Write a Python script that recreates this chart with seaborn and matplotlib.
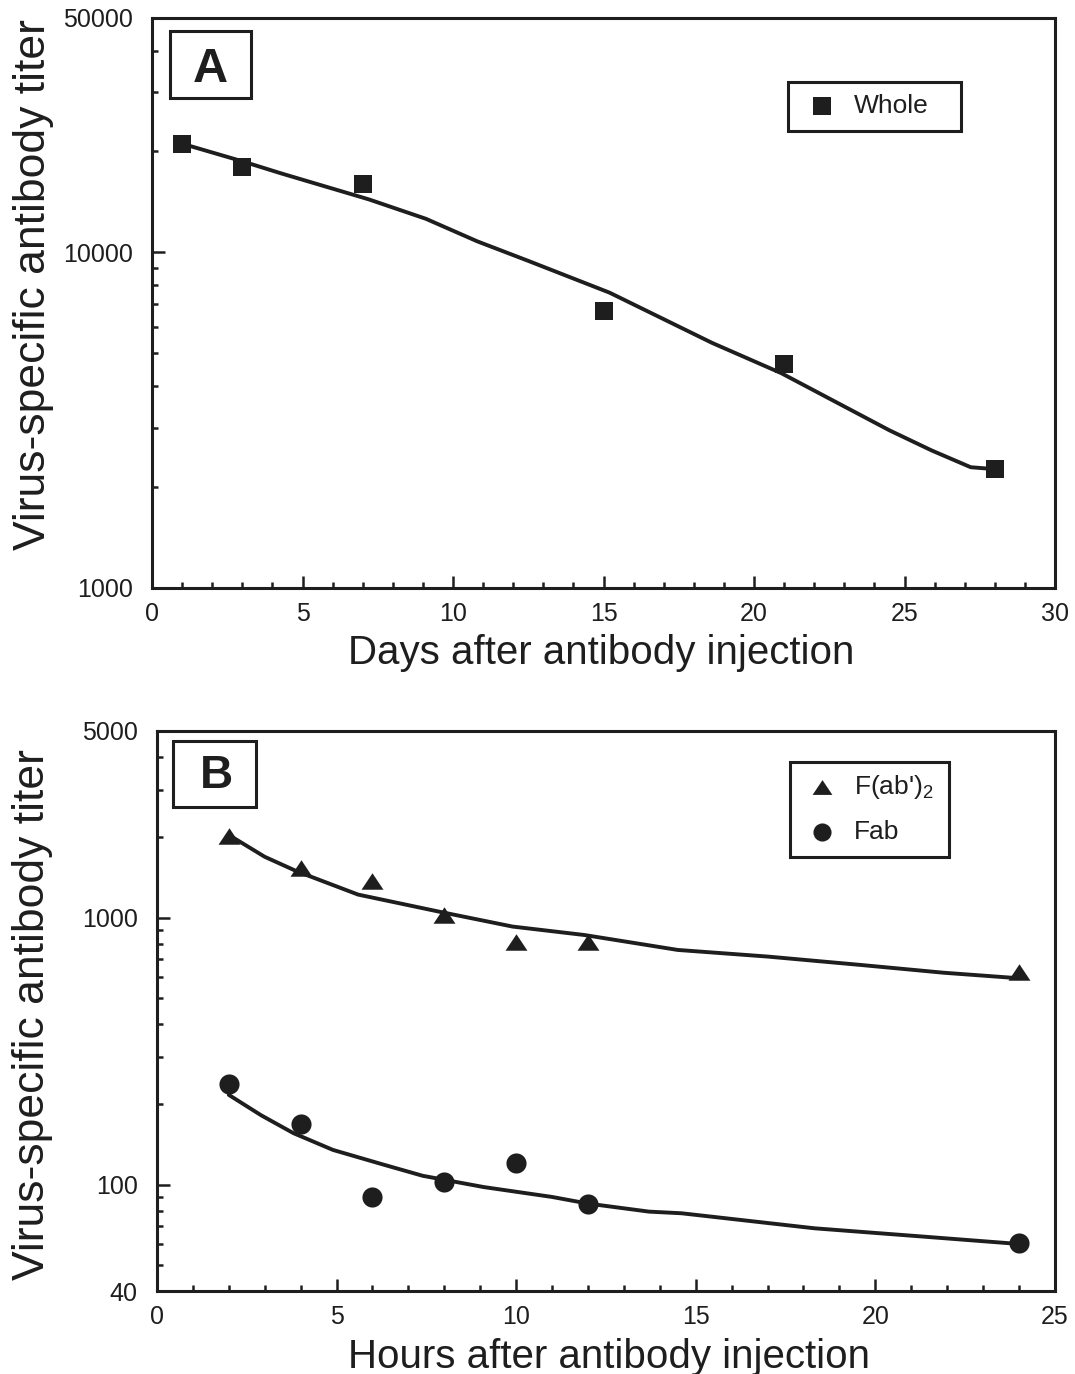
import matplotlib
matplotlib.use("Agg")
import matplotlib.pyplot as plt
import seaborn as sns
import pandas as pd
from matplotlib.ticker import FixedLocator, FixedFormatter, LogLocator, NullFormatter, MultipleLocator
from matplotlib.patches import Rectangle

# ---- Panel A: whole antibody, titer vs days ----
days_whole = [1, 3, 7, 15, 21, 28]
titer_whole = [21000, 18000, 16000, 6700, 4660, 2260]
fit_days = [1, 3, 4.3, 7.2, 9.1, 10.8, 12.5, 15.2, 18.6, 20.9, 24.5, 25.9, 27.2, 28]
fit_whole = [21100, 18700, 17200, 14400, 12600, 10800, 9440, 7590, 5380, 4370, 2950, 2570, 2290, 2260]

# ---- Panel B: fragments, titer vs hours ----
hours = [2, 4, 6, 8, 10, 12, 24]
titer_fab2 = [2020, 1540, 1370, 1020, 810, 810, 626]
titer_fab = [238, 169, 90, 102, 121, 85, 60.5]
fit_hours_fab2 = [2, 3, 3.9, 5.6, 7.9, 9.9, 11.9, 14.5, 17, 19.6, 21.9, 24]
fit_fab2 = [2040, 1690, 1490, 1220, 1050, 926, 861, 757, 715, 665, 622, 593]
fit_hours_fab = [2, 2.9, 3.8, 4.9, 6.3, 7.4, 9.1, 11, 12, 13.7, 14.6, 18.3, 21.1, 24]
fit_fab = [217, 182, 156, 135, 119, 108, 98, 90, 85, 79.3, 78.2, 68.7, 64.3, 60]

y_ticks_a = [1000, 10000, 50000]
y_ticks_b = [40, 100, 1000, 5000]
y_label = "Virus-specific antibody titer"
x_label_a = "Days after antibody injection"
x_label_b = "Hours after antibody injection"

INK = "#1e1e1e"

sns.set_theme(style="ticks")
plt.rcParams["font.family"] = ["Liberation Sans", "DejaVu Sans"]
plt.rcParams["mathtext.fontset"] = "custom"
plt.rcParams["mathtext.rm"] = "Liberation Sans"
plt.rcParams["mathtext.it"] = "Liberation Sans"
plt.rcParams["text.color"] = INK
plt.rcParams["axes.labelcolor"] = INK

fig = plt.figure(figsize=(10.75, 13.74), dpi=100)
fig.patch.set_facecolor("white")
ax_a = fig.add_axes([0.1414, 0.5721, 0.8400, 0.4148])
ax_b = fig.add_axes([0.1460, 0.0604, 0.8353, 0.4076])

flat_triangle = [(-1, -0.75), (1, -0.75), (0, 0.75)]


def style_axis(ax, xmax, yticks, ylim):
    ax.set_facecolor("white")
    ax.set_yscale("log")
    ax.set_xlim(0, xmax)
    ax.set_ylim(*ylim)
    ax.xaxis.set_major_locator(MultipleLocator(5))
    ax.xaxis.set_minor_locator(MultipleLocator(1))
    ax.yaxis.set_major_locator(FixedLocator(yticks))
    ax.yaxis.set_major_formatter(FixedFormatter([str(t) for t in yticks]))
    ax.yaxis.set_minor_locator(LogLocator(base=10, subs=range(2, 10)))
    ax.yaxis.set_minor_formatter(NullFormatter())
    for sp in ax.spines.values():
        sp.set_visible(True)
        sp.set_linewidth(2.2)
        sp.set_color(INK)
    ax.tick_params(which="both", direction="in", top=False, right=False,
                   color=INK, width=1.8, labelcolor=INK)
    ax.tick_params(which="major", length=9, labelsize=18)
    ax.tick_params(which="minor", length=4.5)
    ax.tick_params(axis="x", which="major", pad=10)
    ax.tick_params(axis="y", which="major", pad=14)


def framed_box(ax, x0, y0, x1, y1):
    ax.add_patch(Rectangle((x0, y0), x1 - x0, y1 - y0, transform=ax.transAxes,
                           fill=False, edgecolor=INK, linewidth=2.2, zorder=5,
                           clip_on=False))


# ---- Panel A ----
style_axis(ax_a, 30, y_ticks_a, (1000, 50000))
sns.lineplot(x=fit_days, y=fit_whole, ax=ax_a, color=INK, linewidth=2.8,
             estimator=None, legend=False)
sns.scatterplot(x=days_whole, y=titer_whole, ax=ax_a, marker="s", s=170,
                color=INK, edgecolor=INK, linewidth=0, label="Whole", zorder=4)
ax_a.set_xlabel(x_label_a, fontsize=29)
ax_a.set_ylabel(y_label, fontsize=32)
ax_a.xaxis.set_label_coords(0.497, -0.081)
ax_a.yaxis.set_label_coords(-0.109, 0.532)

framed_box(ax_a, 0.0199, 0.8596, 0.1096, 0.9772)
ax_a.text(0.0642, 0.8877, "A", transform=ax_a.transAxes, ha="center",
          va="baseline", fontsize=35, fontweight="bold", color=INK)

framed_box(ax_a, 0.7043, 0.8018, 0.8959, 0.8877)
ax_a.legend(loc="center left", bbox_to_anchor=(0.7273, 0.8456), frameon=False,
            fontsize=19, borderpad=0, borderaxespad=0, handlelength=1.0,
            handletextpad=0.71, markerscale=0.95)

# ---- Panel B ----
style_axis(ax_b, 25, y_ticks_b, (40, 5000))
sns.lineplot(x=fit_hours_fab2, y=fit_fab2, ax=ax_b, color=INK, linewidth=2.8,
             estimator=None, legend=False)
sns.lineplot(x=fit_hours_fab, y=fit_fab, ax=ax_b, color=INK, linewidth=2.8,
             estimator=None, legend=False)
sns.scatterplot(x=hours, y=titer_fab2, ax=ax_b, marker=flat_triangle, s=250,
                color=INK, edgecolor=INK, linewidth=0,
                label="F(ab')$_\\mathregular{2}$", zorder=4)
sns.scatterplot(x=hours, y=titer_fab, ax=ax_b, marker="o", s=210,
                color=INK, edgecolor=INK, linewidth=0, label="Fab", zorder=4)
ax_b.set_xlabel(x_label_b, fontsize=29)
ax_b.set_ylabel(y_label, fontsize=32)
ax_b.xaxis.set_label_coords(0.503, -0.084)
ax_b.yaxis.set_label_coords(-0.116, 0.493)

framed_box(ax_b, 0.0178, 0.8643, 0.1102, 0.9821)
ax_b.text(0.0657, 0.8982, "B", transform=ax_b.transAxes, ha="center",
          va="baseline", fontsize=33, fontweight="bold", color=INK)

framed_box(ax_b, 0.7049, 0.7750, 0.8820, 0.9446)
ax_b.legend(loc="center left", bbox_to_anchor=(0.7258, 0.8616), frameon=False,
            fontsize=19, borderpad=0, borderaxespad=0, handlelength=1.0,
            handletextpad=0.71, labelspacing=0.7, markerscale=0.9)

fig.savefig("out.png", dpi=100, facecolor="white")
